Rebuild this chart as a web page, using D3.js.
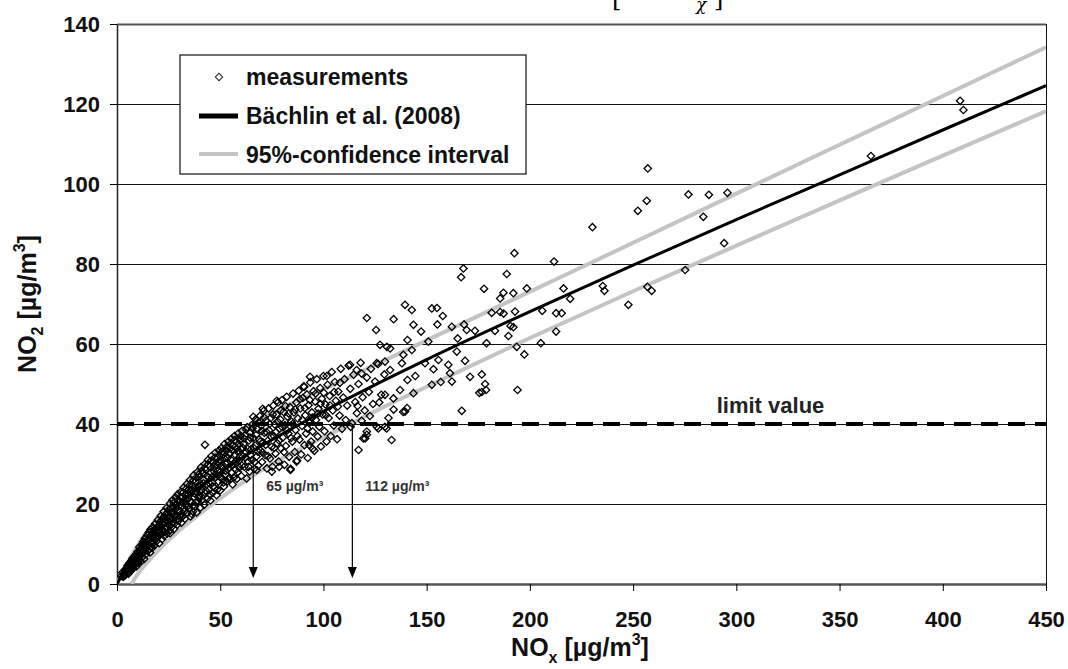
<!DOCTYPE html>
<html>
<head>
<meta charset="utf-8">
<script src="https://cdn.jsdelivr.net/npm/d3@7"></script>
<style>
body { margin: 0; background: #fff; }
text { font-family: Arial, "Liberation Sans", sans-serif; font-weight: bold; }
</style>
</head>
<body>
<div id="chart"></div>
<script>
// axis ticks
var noxTicks = [0, 50, 100, 150, 200, 250, 300, 350, 400, 450];
var no2Ticks = [0, 20, 40, 60, 80, 100, 120, 140];

// Baechlin et al. (2008) curve
var fitNox = [0, 5, 10, 20, 30, 40, 50, 65, 80, 100, 125, 150, 200, 250, 300, 350, 400, 450];
var fitNo2 = [0, 4.7, 8.6, 14.9, 19.9, 24.2, 27.9, 33.0, 37.5, 43.2, 49.8, 56.1, 68.1, 79.7, 91.1, 102.3, 113.5, 124.6];

// 95% confidence interval
var upperNox = [0, 5, 10, 20, 30, 40, 50, 65, 80, 100, 150, 200, 250, 300, 350, 400, 450];
var upperNo2 = [0, 5.2, 9.6, 17.0, 23.4, 28.8, 33.6, 40.0, 44.0, 48.7, 60.9, 73.1, 85.3, 97.6, 109.8, 122.0, 134.2];
var lowerNox = [7, 10, 15, 20, 30, 40, 50, 61, 75, 87, 100, 113, 127, 150, 200, 250, 300, 350, 400, 450];
var lowerNo2 = [0, 2.5, 5.6, 8.4, 13.3, 17.5, 21.4, 25.4, 30.0, 33.3, 36.7, 40.0, 43.7, 49.3, 61.5, 73.2, 84.6, 95.9, 107.1, 118.2];

var limitValue = 40;
var arrowNox = [66, 114];
var arrowLabels = ["65 µg/m³", "112 µg/m³"];

// measurements [NOx, NO2]
var measurements = [
[2.1,2.0],[2.6,2.9],[3.0,1.8],[3.3,2.6],[3.8,3.4],[4.0,2.2],[4.4,3.9],[4.7,2.8],[5.1,4.6],[5.3,3.1],
[5.6,2.6],[5.9,5.2],[6.2,3.8],[6.4,4.4],[6.8,3.3],[7.0,5.8],[7.3,4.1],[7.5,6.4],[7.8,3.9],[8.1,5.0],
[8.3,6.9],[8.6,4.6],[8.9,5.7],[9.2,7.4],[9.4,4.4],[9.7,6.2],[10.0,8.1],[10.2,5.3],[10.5,7.0],[10.8,9.2],
[11.0,6.1],[11.3,8.4],[11.6,5.6],[11.9,7.6],[12.1,9.9],[12.4,6.8],[12.7,10.6],[13.0,8.8],[13.2,6.3],[13.5,11.4],
[13.8,9.6],[14.0,7.4],[14.3,10.3],[14.6,12.2],[14.9,8.2],[15.1,9.9],[15.4,12.9],[15.7,11.1],[16.0,7.9],[16.2,13.6],
[16.5,10.4],[16.8,12.1],[17.1,9.0],[17.3,14.2],[17.6,11.4],[17.9,13.2],[18.2,9.6],[18.4,15.0],[18.7,12.5],[19.0,10.6],
[19.3,14.1],[19.6,11.7],[19.8,16.0],[20.1,13.2],[20.4,10.2],[20.7,15.4],[21.0,12.3],[21.2,17.0],[21.5,14.4],[21.8,11.2],
[22.1,16.2],[22.4,13.4],[22.6,18.1],[22.9,12.0],[23.2,15.3],[23.5,17.4],[23.8,13.9],[24.0,19.0],[24.3,12.6],[24.6,16.6],
[24.9,14.8],[25.2,18.6],[25.4,13.4],[25.7,20.1],[26.0,16.1],[26.3,14.2],[26.6,18.0],[26.9,21.0],[27.1,15.4],[27.4,19.3],
[27.7,13.8],[28.0,17.2],[28.3,21.6],[28.6,16.0],[28.9,19.9],[29.1,14.8],[29.4,22.4],[29.7,18.1],[30.0,15.9],[30.3,20.6],
[30.6,17.3],[30.9,23.0],[31.2,15.3],[31.5,19.5],[31.8,21.8],[32.0,17.0],[32.3,24.1],[32.6,19.0],[32.9,16.3],[33.2,22.3],
[33.5,20.0],[33.8,25.0],[34.1,17.7],[34.4,21.4],[34.7,23.6],[35.0,18.8],[35.3,26.0],[35.6,16.9],[35.9,22.6],[36.2,20.3],
[36.5,24.8],[36.8,18.1],[37.1,27.2],[37.4,21.7],[37.7,19.4],[38.0,25.6],[38.3,23.2],[38.6,17.9],[38.9,28.0],[39.2,20.8],
[39.5,24.4],[39.8,22.1],[40.1,26.9],[40.4,19.1],[40.7,29.2],[41.0,23.5],[41.3,21.0],[41.6,27.6],[41.9,25.2],[42.2,19.8],
[42.5,30.0],[42.8,22.7],[43.1,28.5],[43.4,24.9],[43.7,21.3],[44.0,31.0],[44.3,26.6],[44.6,23.6],[44.9,29.4],[45.2,20.9],
[45.5,27.9],[45.8,32.0],[46.1,25.3],[46.4,22.8],[46.7,30.3],[47.0,28.2],[47.3,24.0],[47.6,32.8],[47.9,26.7],[48.2,22.2],
[48.5,29.8],[48.8,31.5],[49.1,25.6],[49.4,33.4],[49.7,27.9],[50.0,23.4],[50.3,30.9],[50.6,34.0],[50.9,26.2],[51.2,28.9],
[51.5,32.4],[51.8,24.4],[52.1,35.0],[52.4,30.1],[52.7,27.3],[53.0,33.3],[53.3,25.6],[53.6,31.6],[53.9,35.6],[54.2,29.0],
[54.5,26.6],[54.8,33.9],[55.1,31.1],[55.4,36.3],[55.7,27.8],[56.0,24.9],[56.3,34.6],[56.6,30.2],[56.9,37.0],[57.2,32.4],
[57.5,28.6],[57.8,35.5],[58.1,26.3],[58.4,33.1],[58.7,37.6],[59.0,30.8],[59.3,29.1],[59.6,36.0],[59.9,33.8],[60.2,27.0],
[60.6,38.3],[60.9,31.9],[61.3,35.0],[61.7,29.3],[62.0,37.1],[62.4,33.0],[62.8,26.4],[63.1,39.2],[63.5,30.6],[63.9,35.9],
[64.2,28.1],[64.6,38.0],[65.0,33.7],[65.4,31.0],[65.8,40.0],[66.1,36.5],[66.5,28.8],[66.9,34.6],[67.3,41.2],[67.6,31.9],
[68.0,38.7],[68.4,29.6],[68.8,36.2],[69.2,42.0],[69.5,33.4],[69.9,39.6],[70.3,30.5],[70.7,35.4],[71.1,43.3],[71.4,37.8],
[71.8,32.2],[72.2,40.8],[72.6,28.9],[73.0,35.8],[73.4,43.9],[73.7,38.4],[74.1,31.4],[74.5,41.5],[74.9,34.3],[75.3,29.3],
[75.7,44.6],[76.0,37.0],[76.4,39.9],[76.8,32.6],[77.2,42.4],[77.6,35.2],[78.0,45.4],[78.3,30.6],[78.7,38.8],[79.1,41.1],
[79.5,33.9],[79.9,46.0],[80.3,36.6],[80.7,43.0],[81.1,29.8],[81.4,39.7],[81.8,34.5],[82.2,46.8],[82.6,41.8],[83.0,37.6],
[83.4,31.8],[83.8,44.2],[84.1,28.8],[84.5,40.6],[84.9,35.6],[85.3,47.6],[85.7,42.9],[86.1,33.0],[86.5,38.5],[86.9,45.4],
[87.2,30.9],[87.6,41.4],[88.0,48.3],[88.4,36.1],[88.8,43.9],[89.2,32.4],[89.6,39.5],[90.0,46.5],[90.4,49.4],[90.8,34.7],
[91.2,42.2],[91.6,37.6],[92.0,47.4],[92.4,31.5],[92.8,44.7],[93.2,40.3],[93.6,50.4],[94.0,35.6],[94.4,42.9],[94.8,38.1],
[95.2,48.2],[95.6,33.3],[96.0,45.6],[96.4,41.0],[96.8,51.2],[97.2,36.9],[97.6,43.8],[98.0,39.3],[98.4,49.0],[98.8,34.4],
[99.2,46.3],[99.6,42.4],[100.0,52.0],[100.5,38.2],[101.0,44.9],[101.5,35.6],[102.0,49.8],[102.5,41.5],[103.0,47.0],[103.5,37.0],
[104.0,53.0],[104.5,43.4],[105.0,39.6],[105.5,50.5],[106.0,45.8],[106.6,36.2],[107.2,48.1],[107.8,42.1],[108.4,53.8],[109.0,38.8],
[109.6,46.6],[110.2,51.2],[110.8,41.0],[111.5,44.6],[112.2,54.6],[113.0,48.8],[113.8,40.2],[114.6,52.3],[115.4,45.5],[116.2,42.7],
[117.0,50.0],[118.0,55.3],[119.0,46.7],[120.0,43.4],[121.0,51.6],[122.0,48.0],[123.0,53.8],[124.0,45.0],[125.0,50.6],[126.5,55.0],
[128.0,47.3],[129.5,52.4],
[3.5,2.1],[4.2,3.1],[4.9,3.6],[5.5,4.1],[6.0,4.8],[6.6,5.4],[7.2,4.6],[7.7,5.1],[8.4,5.9],[8.8,6.5],
[9.5,5.4],[9.9,7.0],[10.4,6.2],[10.9,8.0],[11.4,7.0],[11.8,8.9],[12.3,7.9],[12.8,9.3],[13.3,8.1],[13.7,10.4],
[14.2,9.0],[14.7,11.0],[15.2,10.8],[15.6,8.8],[16.1,11.9],[16.6,9.3],[17.0,12.8],[17.5,10.3],[18.0,12.0],[18.5,13.8],
[18.9,11.3],[19.4,13.0],[19.9,12.0],[20.3,14.6],[20.8,12.9],[21.3,15.8],[21.7,13.5],[22.2,14.8],[22.7,16.8],[23.1,13.0],
[23.6,16.0],[24.1,14.4],[24.5,17.8],[25.0,15.6],[25.5,17.0],[26.1,19.0],[26.5,15.0],[27.0,17.5],[27.5,20.3],[28.1,15.2],
[28.5,18.8],[29.0,17.0],[29.5,20.8],[30.1,18.4],[30.5,21.7],[31.0,16.6],[31.6,20.4],[32.1,22.9],[32.5,18.1],[33.0,21.2],
[33.6,23.8],[34.0,19.3],[34.6,22.5],[35.1,24.6],[35.5,20.6],[36.0,23.6],[36.6,19.5],[37.0,25.9],[37.6,22.6],[38.1,20.4],
[38.5,26.6],[39.0,23.8],[39.6,27.4],[40.0,21.6],[40.6,24.6],[41.1,28.3],[41.5,22.2],[42.0,26.1],[42.6,28.9],[43.0,23.4],
[43.6,27.0],[44.1,29.9],[44.5,25.3],[45.0,22.4],[45.6,30.8],[46.0,26.8],[46.6,24.3],[47.1,29.3],[47.5,31.6],[48.0,27.4],
[48.6,23.6],[49.0,30.6],[49.6,32.2],[50.1,26.9],[50.5,29.6],[51.1,33.1],[51.6,25.4],[52.0,31.4],[52.6,28.3],[53.1,34.2],
[53.5,30.4],[54.1,26.4],[54.6,32.6],[55.0,35.0],[55.6,29.6],[56.1,33.4],[56.5,26.6],[57.1,36.0],[57.6,30.6],[58.0,33.9],
[58.6,28.0],[59.1,35.0],[59.5,31.8],[60.0,37.0],[60.5,29.6],[61.0,34.0],[61.5,36.4],[62.2,31.6],[62.6,38.6],[63.3,33.8],
[63.7,29.3],[64.4,36.6],[64.8,32.2],[65.6,38.9],[66.3,34.0],[66.7,30.5],[67.5,37.3],[68.2,33.1],[68.6,40.4],[69.4,35.6],
[70.1,38.3],[70.5,32.9],[71.3,41.6],[72.0,34.8],[72.4,38.0],[73.2,32.0],[73.9,40.0],[74.7,36.8],[75.5,42.4],[76.2,34.0],
[77.0,38.0],[77.8,40.6],[78.5,35.9],[79.3,43.4],[80.0,39.2],[80.9,33.0],[81.6,44.5],[82.4,38.4],[83.2,42.6],[84.3,36.5],
[85.0,40.0],[86.3,43.6],[87.4,37.0],[88.6,46.2],[89.8,41.0],[91.0,44.0],[92.2,38.9],[93.4,46.0],[94.6,41.6],[96.2,47.6],
[97.4,42.6],[98.6,45.0],[100.2,47.8],[101.2,42.2],[103.2,44.6],[105.2,48.0],[107.0,44.4],
[42.6,34.8],[25.7,12.7],[36.2,17.5],[67.7,28.5],[75.0,28.1],[78.6,29.3],[84.0,28.5],[87.0,30.6],[94.8,33.8],[93.2,34.7],
[77.4,45.8],[70.6,43.8],[66.0,41.8],[93.5,51.8],[90.7,49.3],[101.6,52.0],[108.0,50.3],[112.9,54.8],[116.1,53.5],[118.5,52.6],
[113.2,39.3],[117.0,33.5],[119.3,36.4],[120.2,36.4],[121.0,37.3],[121.0,38.1],[125.8,39.3],[126.6,38.9],[129.8,39.3],[130.6,38.9],
[133.0,36.0],[116.5,44.5],[118.5,40.8],[122.5,42.0],[127.0,45.4],[131.5,41.5],[134.0,43.6],[125.8,55.2],[129.8,55.6],[130.7,59.3],
[121.0,66.5],[125.5,63.5],[127.4,59.8],[134.0,66.2],[132.3,58.9],[133.9,46.4],[129.8,47.3],[132.3,53.5],[138.6,43.0],[140.5,44.0],
[137.1,48.5],[138.7,57.3],[138.0,55.2],[139.5,69.8],[139.5,43.1],[140.7,61.0],[140.7,51.0],[142.8,68.5],[142.8,58.5],[143.6,64.8],
[143.6,47.7],[144.5,52.0],[147.3,63.1],[149.2,55.2],[150.8,60.6],[152.5,68.9],[152.5,49.8],[155.0,69.0],[153.3,53.7],[155.2,64.9],
[155.7,56.0],[156.8,50.5],[157.8,67.0],[160.5,54.8],[161.3,52.7],[162.2,64.3],[162.2,50.6],[164.6,58.1],[165.0,61.4],[166.7,76.7],
[167.8,78.9],[167.0,43.3],[168.1,64.9],[168.6,55.8],[169.4,63.5],[171.0,51.8],[173.4,63.3],[175.5,47.8],[176.7,52.4],[176.7,48.0],
[177.8,73.8],[178.3,50.0],[178.8,48.5],[179.0,60.2],[181.5,67.8],[183.1,63.3],[185.6,71.4],[185.6,68.0],[187.3,67.6],[187.2,72.8],
[188.8,77.5],[189.6,62.0],[190.6,64.5],[192.0,72.7],[192.0,64.2],[192.5,82.7],[192.8,68.1],[193.6,59.3],[194.0,48.5],[197.3,57.4],
[198.5,73.9],[205.3,60.2],[206.0,68.3],[211.7,80.6],[212.7,67.7],[212.7,63.1],[215.4,67.7],[216.3,73.9],[219.5,71.3],[230.3,89.2],
[235.3,74.5],[236.1,73.3],[247.7,69.8],[252.3,93.3],[256.6,95.8],[257.1,103.9],[256.9,74.3],[259.0,73.3],[275.2,78.5],[276.8,97.4],
[284.0,91.8],[286.7,97.3],[294.1,85.2],[295.7,97.8],[365.2,107.0],[408.4,120.8],[410.0,118.5]
];

var margin = {top: 24, right: 22, bottom: 85, left: 117},
width = 1068 - margin.left - margin.right,
height = 669 - margin.top - margin.bottom;

var root = d3.select("#chart")
.append("svg")
.attr("width", 1068)
.attr("height", 669);

// title of the figure, cut off by the top edge of the picture
root.append("text").attr("x", 612).attr("y", 6).style("font-family", "'DejaVu Serif', serif").style("font-weight", "normal").style("font-size", "24px").text("[");
root.append("text").attr("x", 696).attr("y", 10).style("font-family", "'DejaVu Serif', serif").style("font-weight", "normal").style("font-style", "italic").style("font-size", "17px").text("χ");
root.append("text").attr("x", 714).attr("y", 6).style("font-family", "'DejaVu Serif', serif").style("font-weight", "normal").style("font-size", "24px").text("]");

var svg = root.append("g")
.attr("transform", "translate(" + margin.left + "," + margin.top + ")");

var x = d3.scaleLinear().domain([0, 450]).range([0, width]);
var y = d3.scaleLinear().domain([0, 140]).range([height, 0]);

svg.append("clipPath").attr("id", "plot")
.append("rect").attr("width", width).attr("height", height);

// horizontal grid
svg.selectAll(".grid")
.data(no2Ticks.filter(function(d) { return d > 0; }))
.enter().append("line")
.attr("x1", 0).attr("x2", width)
.attr("y1", function(d) { return y(d) + 0.5; })
.attr("y2", function(d) { return y(d) + 0.5; })
.attr("stroke", function(d) { return d == 140 ? "#555" : "#111"; })
.attr("stroke-width", function(d) { return d == 140 ? 2 : 1; });

// right border
svg.append("line")
.attr("x1", width + 0.5).attr("x2", width + 0.5).attr("y1", 0).attr("y2", height)
.attr("stroke", "#111");

// axes
var yAxis = svg.append("g")
.call(d3.axisLeft(y).tickValues(no2Ticks).tickSize(7).tickSizeOuter(0).tickPadding(10));
yAxis.select(".domain").attr("stroke", "#222").attr("stroke-width", 1.5);
yAxis.selectAll("text").style("font-size", "22px").attr("fill", "#111");

var xAxis = svg.append("g")
.attr("transform", "translate(0," + height + ")")
.call(d3.axisBottom(x).tickValues(noxTicks).tickSize(7).tickSizeOuter(0).tickPadding(20));
xAxis.select(".domain").attr("stroke", "#555").attr("stroke-width", 2.5);
xAxis.selectAll("text").style("font-size", "22px").attr("fill", "#111");

// lines
var line = d3.line()
.x(function(d) { return x(d[0]); })
.y(function(d) { return y(d[1]); })
.curve(d3.curveMonotoneX);

var lines = svg.append("g").attr("clip-path", "url(#plot)");
lines.append("path")
.datum(upperNox.map(function(d, i) { return [d, upperNo2[i]]; }))
.attr("d", line).attr("fill", "none").attr("stroke", "#c4c4c4").attr("stroke-width", 4);
lines.append("path")
.datum(lowerNox.map(function(d, i) { return [d, lowerNo2[i]]; }))
.attr("d", line).attr("fill", "none").attr("stroke", "#c4c4c4").attr("stroke-width", 4);
lines.append("path")
.datum(fitNox.map(function(d, i) { return [d, fitNo2[i]]; }))
.attr("d", line).attr("fill", "none").attr("stroke", "#000").attr("stroke-width", 3);

// measurements
var diamond = d3.symbol().type(d3.symbolSquare).size(27);
svg.append("g")
.selectAll("path")
.data(measurements)
.enter().append("path")
.attr("d", diamond)
.attr("transform", function(d) { return "translate(" + x(d[0]) + "," + y(d[1]) + ") rotate(45)"; })
.attr("fill", "none")
.attr("stroke", "#000")
.attr("stroke-width", 1.3);

// limit value
svg.append("line")
.attr("x1", 0).attr("x2", width)
.attr("y1", y(limitValue)).attr("y2", y(limitValue))
.attr("stroke", "#000").attr("stroke-width", 4)
.attr("stroke-dasharray", "17,10");
svg.append("text")
.attr("x", x(290.5)).attr("y", y(limitValue) - 11)
.style("font-size", "22px").attr("fill", "#222")
.text("limit value");

// arrows
var arrows = svg.selectAll(".arrow").data(arrowNox).enter().append("g");
arrows.append("line")
.attr("x1", function(d) { return x(d); }).attr("x2", function(d) { return x(d); })
.attr("y1", y(limitValue)).attr("y2", height - 12)
.attr("stroke", "#000").attr("stroke-width", 1.2);
arrows.append("path")
.attr("d", function(d) { var cx = x(d); return "M" + (cx - 4.5) + "," + (height - 17) + "L" + (cx + 4.5) + "," + (height - 17) + "L" + cx + "," + (height - 6) + "Z"; })
.attr("fill", "#000");
arrows.append("text")
.attr("x", function(d) { return x(d) + 13; })
.attr("y", y(limitValue) + 67)
.style("font-size", "14px").attr("fill", "#333")
.text(function(d, i) { return arrowLabels[i]; });

// axis titles
var xTitle = root.append("text")
.attr("x", 580).attr("y", 656)
.attr("text-anchor", "middle")
.style("font-size", "25px").attr("fill", "#111");
xTitle.append("tspan").text("NO");
xTitle.append("tspan").attr("dy", 7).style("font-size", "16px").text("x");
xTitle.append("tspan").attr("dy", -7).text(" [µg/m");
xTitle.append("tspan").attr("dy", -11).style("font-size", "16px").text("3");
xTitle.append("tspan").attr("dy", 11).text("]");

var yTitle = root.append("text")
.attr("transform", "translate(36,304) rotate(-90)")
.attr("text-anchor", "middle")
.style("font-size", "25px").attr("fill", "#111");
yTitle.append("tspan").text("NO");
yTitle.append("tspan").attr("dy", 7).style("font-size", "16px").text("2");
yTitle.append("tspan").attr("dy", -7).text(" [µg/m");
yTitle.append("tspan").attr("dy", -11).style("font-size", "16px").text("3");
yTitle.append("tspan").attr("dy", 11).text("]");

// legend
var legend = root.append("g");
legend.append("rect")
.attr("x", 180).attr("y", 55).attr("width", 346).attr("height", 119)
.attr("fill", "#fff").attr("stroke", "#222").attr("stroke-width", 1.3);
legend.append("path")
.attr("d", diamond)
.attr("transform", "translate(219,77) rotate(45)")
.attr("fill", "#fff").attr("stroke", "#222");
legend.append("line").attr("x1", 199).attr("x2", 238).attr("y1", 116).attr("y2", 116)
.attr("stroke", "#000").attr("stroke-width", 5);
legend.append("line").attr("x1", 199).attr("x2", 238).attr("y1", 154).attr("y2", 154)
.attr("stroke", "#c4c4c4").attr("stroke-width", 4);
var legendLabels = ["measurements", "Bächlin et al. (2008)", "95%-confidence interval"];
legend.selectAll(".lbl").data(legendLabels).enter().append("text")
.attr("x", 246)
.attr("y", function(d, i) { return 85 + i * 39; })
.style("font-size", "23px").attr("fill", "#111")
.text(function(d) { return d; });
</script>
</body>
</html>
